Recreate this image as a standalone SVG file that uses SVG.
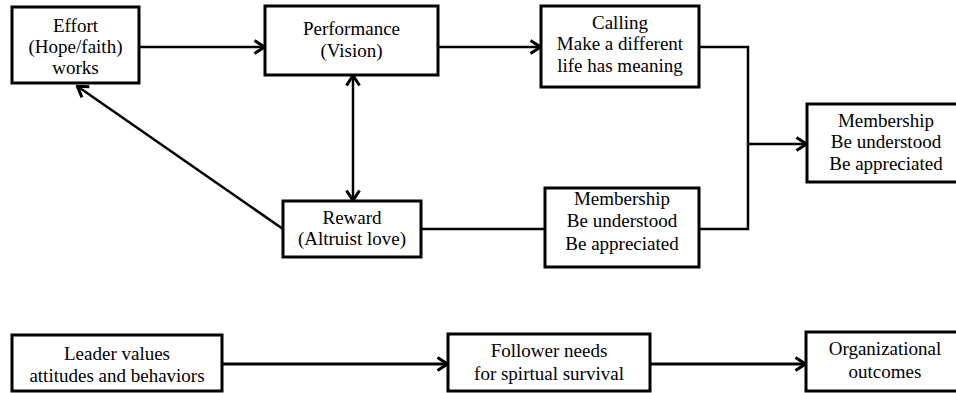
<svg xmlns="http://www.w3.org/2000/svg" width="956" height="393" viewBox="0 0 956 393">
<style>
.box{fill:#fff;stroke:#000;stroke-width:3}
text{font-family:"Liberation Serif","Times New Roman",serif;font-size:19px;fill:#000;text-anchor:middle}
.c{fill:none;stroke:#000;stroke-width:2.5}
.cb{fill:none;stroke:#000;stroke-width:3}
</style>
<defs>
<marker id="ah" markerUnits="userSpaceOnUse" markerWidth="14" markerHeight="16" viewBox="0 0 14 16" refX="12.5" refY="8" orient="auto-start-reverse">
<path d="M2,1.5 L12,8 L2,14.5" fill="none" stroke="#000" stroke-width="3"/>
</marker>
</defs>
<rect width="956" height="393" fill="#fff"/>
<g id="connectors">
<line class="c" x1="139" y1="47" x2="265" y2="47" marker-end="url(#ah)"/>
<line class="c" x1="438" y1="47" x2="541" y2="47" marker-end="url(#ah)"/>
<line class="c" x1="353" y1="75" x2="353" y2="201" marker-start="url(#ah)" marker-end="url(#ah)"/>
<line class="c" x1="283" y1="229" x2="77" y2="86" marker-end="url(#ah)"/>
<line class="c" x1="421" y1="229" x2="545" y2="229"/>
<polyline class="c" points="699,47 748,47 748,229 699,229"/>
<line class="c" x1="748" y1="144" x2="807" y2="144" marker-end="url(#ah)"/>
<line class="cb" x1="222" y1="364" x2="448" y2="364" marker-end="url(#ah)"/>
<line class="cb" x1="650" y1="364" x2="806" y2="364" marker-end="url(#ah)"/>
</g>
<g id="effort">
<rect class="box" x="12" y="7" width="127" height="76"/>
<text x="75.5" y="32">Effort</text>
<text x="75.5" y="53">(Hope/faith)</text>
<text x="75.5" y="74">works</text>
</g>
<g id="performance">
<rect class="box" x="265" y="6" width="173" height="69"/>
<text x="351.5" y="35">Performance</text>
<text x="351.5" y="57">(Vision)</text>
</g>
<g id="calling">
<rect class="box" x="541" y="6" width="158" height="81"/>
<text x="620" y="29">Calling</text>
<text x="620" y="50">Make a different</text>
<text x="620" y="72">life has meaning</text>
</g>
<g id="reward">
<rect class="box" x="283" y="201" width="138" height="56"/>
<text x="352" y="224">Reward</text>
<text x="352" y="245">(Altruist love)</text>
</g>
<g id="membership-lower">
<rect class="box" x="545" y="188" width="154" height="79"/>
<text x="622" y="205">Membership</text>
<text x="622" y="227">Be understood</text>
<text x="622" y="250">Be appreciated</text>
</g>
<g id="membership-right">
<rect class="box" x="807" y="104" width="158" height="78"/>
<text x="886" y="127">Membership</text>
<text x="886" y="148">Be understood</text>
<text x="886" y="170">Be appreciated</text>
</g>
<g id="leader">
<rect class="box" x="12" y="335" width="210" height="56"/>
<text x="117" y="360">Leader values</text>
<text x="117" y="382">attitudes and behaviors</text>
</g>
<g id="follower">
<rect class="box" x="448" y="334" width="202" height="57"/>
<text x="549" y="357">Follower needs</text>
<text x="549" y="380">for spirtual survival</text>
</g>
<g id="organizational">
<rect class="box" x="806" y="332" width="158" height="59"/>
<text x="885" y="355">Organizational</text>
<text x="885" y="378">outcomes</text>
</g>
</svg>
